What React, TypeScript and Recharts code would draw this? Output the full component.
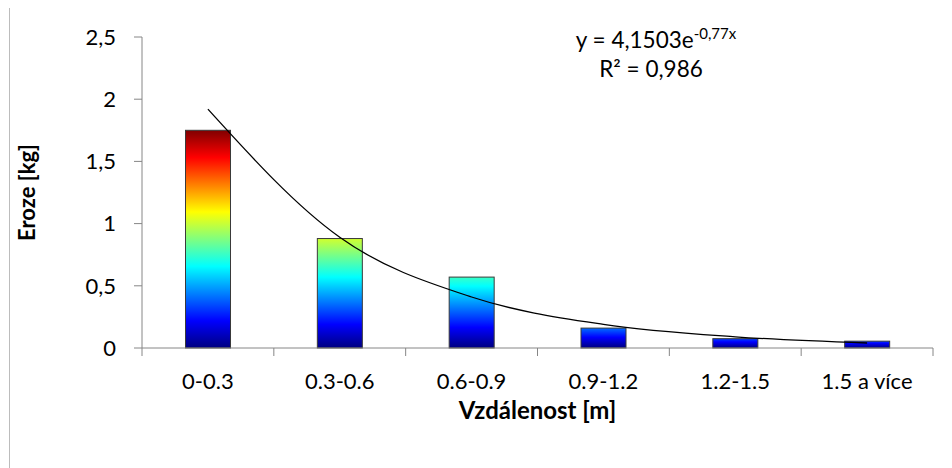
import React from "react";
import { Bar, ComposedChart, Customized, Line, XAxis, YAxis } from "recharts";

const categories = ["0-0.3", "0.3-0.6", "0.6-0.9", "0.9-1.2", "1.2-1.5", "1.5 a více"];
const erosion = [1.75, 0.88, 0.57, 0.16, 0.075, 0.055];
// exponential trendline at each category centre
const trend = [1.92, 0.89, 0.41, 0.19, 0.09, 0.04];
const yTicks = [0, 0.5, 1, 1.5, 2, 2.5];

const data = categories.map((name, i) => ({ name, erosion: erosion[i], trend: trend[i] }));
const maxVal = Math.max(...erosion);
// each bar's rainbow is cut off at a point that grows with its height
const colourBase = 0.32;

const FONT = "Lato, 'Open Sans', sans-serif";
const AXIS = "#868686";

// jet colormap stops, dark blue at 0 up to dark red at 1
const JET: [number, number[]][] = [
  [0, [0, 0, 128]],
  [0.125, [0, 0, 255]],
  [0.375, [0, 255, 255]],
  [0.625, [255, 255, 0]],
  [0.875, [255, 0, 0]],
  [1, [128, 0, 0]],
];

function jet(t: number) {
  for (let i = 1; i < JET.length; i++) {
    const [p1, c1] = JET[i];
    const [p0, c0] = JET[i - 1];
    if (t <= p1) {
      const k = (t - p0) / (p1 - p0);
      const c = c0.map((v, j) => Math.round(v + (c1[j] - v) * k));
      return `rgb(${c[0]},${c[1]},${c[2]})`;
    }
  }
  return "rgb(128,0,0)";
}

function GradientBar(props: any) {
  const { x, y, width, height, index, payload } = props;
  if (!height || height <= 0) return null;
  const frac = (payload.erosion + colourBase) / (maxVal + colourBase);
  const id = `jet-bar-${index}`;
  const stops = JET.filter(([p]) => p < frac).map(([p]) => (
    <stop key={p} offset={p / frac} stopColor={jet(p)} />
  ));
  return (
    <g>
      <defs>
        <linearGradient id={id} x1="0" y1="1" x2="0" y2="0">
          {stops}
          <stop offset={1} stopColor={jet(frac)} />
        </linearGradient>
      </defs>
      <rect x={x} y={y} width={width} height={height} fill={`url(#${id})`} stroke="#3a3a3a" strokeWidth={1} />
    </g>
  );
}

// tick marks sit on category boundaries, not centres
function CategoryTick(props: any) {
  const { x, y, payload, index } = props;
  const half = payload.offset ?? 0;
  const top = y - 22;
  return (
    <g>
      <line x1={x - half} x2={x - half} y1={top - 3} y2={top + 5} stroke={AXIS} />
      {index === categories.length - 1 && (
        <line x1={x + half} x2={x + half} y1={top - 3} y2={top + 5} stroke={AXIS} />
      )}
      <text x={x} y={y} dy="0.71em" textAnchor="middle" fontSize={22} fontFamily={FONT} fill="#000">
        {payload.value}
      </text>
    </g>
  );
}

function Equation() {
  return (
    <g fontFamily={FONT} fill="#000" fontSize={22.5}>
      <text x={646} y={40} textAnchor="middle">
        y = 4,1503e
        <tspan fontSize={15} dy={-9}>-0,77x</tspan>
      </text>
      <text x={641} y={69} textAnchor="middle">
        R² = 0,986
      </text>
    </g>
  );
}

export default function App() {
  return (
    <div
      style={{
        marginTop: -1,
        marginLeft: 1,
        width: 960,
        height: 480,
        border: "1px solid #bcbcbc",
        background: "#fff",
      }}
    >
      <ComposedChart
        width={940}
        height={460}
        data={data}
        margin={{ top: 29, right: 17, left: 0, bottom: 60 }}
        barCategoryGap="33%"
      >
        <XAxis
          dataKey="name"
          stroke={AXIS}
          tickLine={false}
          tickSize={8}
          tickMargin={17}
          height={60}
          interval={0}
          tick={<CategoryTick />}
          label={{
            content: ({ viewBox }: any) => (
              <text
                x={viewBox.x + viewBox.width / 2}
                y={viewBox.y + 71}
                textAnchor="middle"
                fontSize={24}
                fontWeight={700}
                fontFamily={FONT}
                fill="#000"
              >
                Vzdálenost [m]
              </text>
            ),
          }}
        />
        <YAxis
          domain={[0, 2.5]}
          ticks={yTicks}
          width={132}
          stroke={AXIS}
          tickSize={8}
          tickMargin={18}
          tickFormatter={(v: number) => String(v).replace(".", ",")}
          tick={{ fill: "#000", fontSize: 22, fontFamily: FONT }}
          label={{
            content: ({ viewBox }: any) => (
              <text
                transform={`translate(${viewBox.x + 25},${viewBox.y + viewBox.height / 2}) rotate(-90)`}
                textAnchor="middle"
                fontSize={22}
                fontWeight={700}
                fontFamily={FONT}
                fill="#000"
              >
                Eroze [kg]
              </text>
            ),
          }}
        />
        <Bar dataKey="erosion" shape={<GradientBar />} isAnimationActive={false} />
        <Line
          dataKey="trend"
          type="monotone"
          stroke="#000"
          strokeWidth={1.3}
          dot={false}
          activeDot={false}
          isAnimationActive={false}
        />
        <Customized component={<Equation />} />
      </ComposedChart>
    </div>
  );
}
